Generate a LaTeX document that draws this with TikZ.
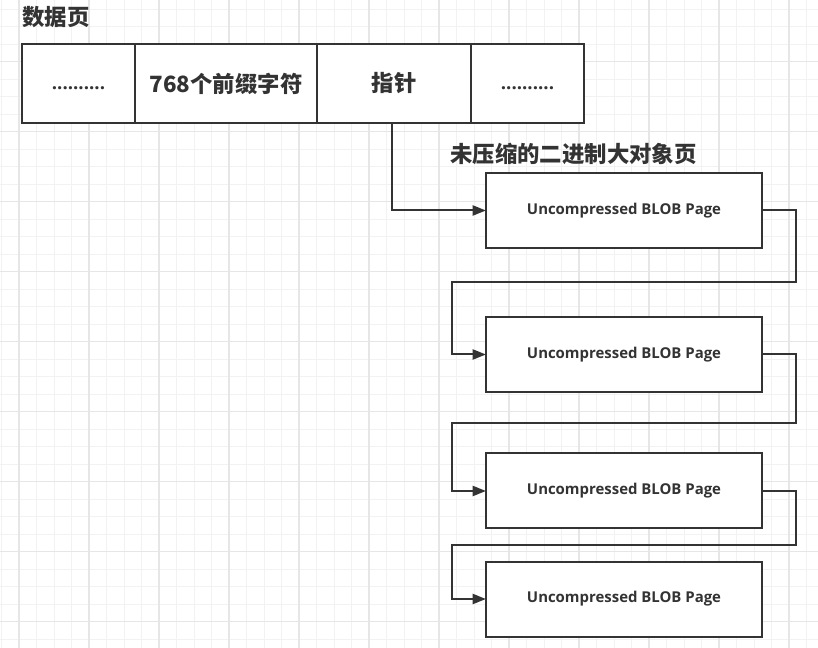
\documentclass[tikz,border=0pt]{standalone}
\usepackage{fontspec}
\usepackage{xcolor}
\usepackage{tikz}
\usetikzlibrary{arrows.meta,calc,positioning}
\newfontfamily\cjk{Noto Sans CJK SC}
\newfontfamily\latinbold{Open Sans}
\definecolor{ink}{HTML}{333333}
\definecolor{gridminor}{HTML}{F2F2F2}
\definecolor{gridmajor}{HTML}{E6E6E6}
\tikzset{%
    minorgrid/.style = { gridminor, line width=0.75pt },
    majorgrid/.style = { gridmajor, line width=1.1pt },
         cell/.style = { draw=ink, fill=white, line width=1.5pt, outer sep=0pt, inner sep=0pt,
                         minimum height=59.25pt, text=ink, font=\cjk\bfseries\fontsize{16.8}{20}\selectfont },
         dots/.style = { cell, text height=8.5pt, text depth=0pt,
                         font=\latinbold\bfseries\fontsize{14}{16}\selectfont },
         blob/.style = { draw=ink, fill=white, line width=1.5pt, outer sep=0pt,
                         minimum width=207pt, minimum height=56.25pt, text=ink,
                         font=\latinbold\bfseries\fontsize{11.2}{13}\selectfont },
        title/.style = { anchor=west, inner sep=0pt, text=ink, font=\cjk\bfseries\fontsize{16.8}{20}\selectfont },
         link/.style = { draw=ink, line width=1.5pt, -{Triangle[length=10pt,width=7.5pt]} }
}
\begin{document}
\begin{tikzpicture}[x=0.75pt,y=-0.75pt,line join=miter]
\useasboundingbox (0,0) rectangle (818,648);
\fill[white] (0,0) rectangle (818,648);
% background grid
\foreach \i in {0,...,47} \draw[minorgrid] ({1.5+17.5*\i},0) -- ++(0,648);
\foreach \j in {0,...,37} \draw[minorgrid] (0,{9.2+17.5*\j}) -- ++(818,0);
\foreach \i in {0,...,11} \draw[majorgrid] ({19+70*\i},0) -- ++(0,648);
\foreach \j in {-1,...,9} \draw[majorgrid] (0,{61.7+70*\j}) -- ++(818,0);
% data page
\node[title] (datapage) at (22,17) {数据页};
\node[dots, minimum width=84.75pt, anchor=north west] (dotsL) at (22,44) {..........};
\node[cell, minimum width=136.5pt, anchor=west] (prefix) at (dotsL.east) {768个前缀字符};
\node[cell, minimum width=115.5pt, anchor=west] (ptr) at (prefix.east) {指针};
\node[dots, minimum width=84.75pt, anchor=west] (dotsR) at (ptr.east) {..........};
% blob pages
\node[title] (blobtitle) at (450,154) {未压缩的二进制大对象页};
\node[blob] (blob1) at (624,210.5) {Uncompressed BLOB Page};
\node[blob] (blob2) at (624,354.5) {Uncompressed BLOB Page};
\node[blob] (blob3) at (624,491) {Uncompressed BLOB Page};
\node[blob] (blob4) at (624,599) {Uncompressed BLOB Page};
% links
\draw[link] ([xshift=-1.5pt]ptr.south) |- (blob1.west);
\foreach \a/\b in {blob1/blob2,blob2/blob3,blob3/blob4}
  \draw[link] (\a.east) -- ++(34,0) |- ($(\a.south)!.5!(\b.north)$)
              -| ($(\b.west)+(-34,0)$) -- (\b.west);
\end{tikzpicture}
\end{document}
